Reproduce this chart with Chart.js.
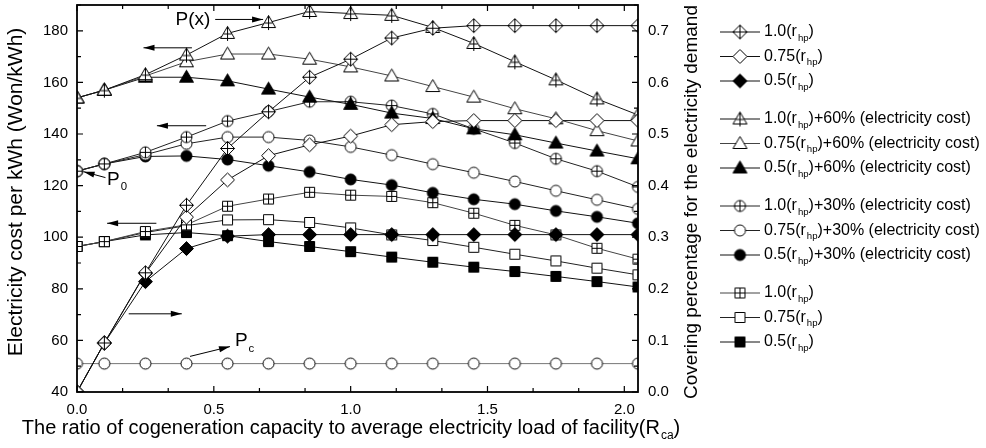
<!DOCTYPE html>
<html>
<head>
<meta charset="utf-8">
<script src="https://cdn.jsdelivr.net/npm/chart.js@4.4.1/dist/chart.umd.min.js"></script>
<style>
    html, body { margin: 0; padding: 0; background: #fff; }
    #wrap { width: 986px; height: 448px; }
</style>
</head>
<body>
<div id="wrap"><canvas id="chart"></canvas></div>
<script>
// x values: ratio of cogeneration capacity to average electricity load (R_ca)
const ratios = [0, 0.1, 0.25, 0.4, 0.55, 0.7, 0.85, 1.0, 1.15, 1.3, 1.45, 1.6, 1.75, 1.9, 2.05];

// covering percentage for the electricity demand (right axis)
const cover100 = [0, 0.095, 0.231, 0.362, 0.472, 0.543, 0.61, 0.645, 0.686, 0.705, 0.71, 0.71, 0.71, 0.71, 0.71];
const cover075 = [0, 0.095, 0.23, 0.339, 0.411, 0.458, 0.479, 0.496, 0.518, 0.524, 0.526, 0.526, 0.526, 0.526, 0.526];
const cover050 = [0, 0.095, 0.214, 0.278, 0.302, 0.305, 0.305, 0.305, 0.305, 0.305, 0.305, 0.305, 0.305, 0.305, 0.305];

// electricity cost per kWh, +60% electricity cost (left axis)
const cost60_100 = [154, 157, 163, 170.6, 179, 183.2, 187.5, 186.7, 186, 181.3, 175.1, 168, 161, 153.6, 147.4];
const cost60_075 = [154, 157, 162.5, 168, 171, 171, 169, 166, 162.5, 158.4, 154.3, 149.8, 145.9, 141.3, 137.3];
const cost60_050 = [154, 157, 162, 162, 160.6, 157.4, 154.3, 151.5, 148.1, 146, 142, 139.7, 136.5, 133.4, 130.4];

// +30% electricity cost
const cost30_100 = [125.6, 128.4, 132.9, 138.8, 145, 148.7, 152.5, 152.5, 151, 147.8, 142, 136.5, 130.4, 125.6, 119.5];
const cost30_075 = [125.6, 128.4, 132, 136.2, 138.8, 138.8, 137.5, 135, 131.8, 128.3, 125, 121.6, 118, 114.5, 111];
const cost30_050 = [125.6, 128.4, 131.3, 131.5, 130.1, 127.7, 125.3, 122.4, 120.2, 117.2, 114.7, 112.8, 110.2, 107.9, 105.4];

// base electricity cost
const cost_100 = [96.4, 98.3, 102.2, 104.8, 112, 114.8, 117.4, 116.3, 115.8, 113.4, 109.3, 104.6, 100.9, 95.7, 91.5];
const cost_075 = [96.4, 98.3, 101.8, 104.5, 106.7, 106.8, 105.7, 103.6, 100.9, 98.7, 96.1, 93.4, 90.8, 88, 85.4];
const cost_050 = [96.4, 98.3, 100.9, 101.8, 100.6, 98.3, 96.4, 94.4, 92.3, 90.3, 88.4, 86.7, 84.8, 82.8, 80.7];

// cogeneration cost P_c
const costPc = [51, 51, 51, 51, 51, 51, 51, 51, 51, 51, 51, 51, 51, 51, 51];

// axis ticks
const xTicks = [0, 0.5, 1.0, 1.5, 2.0];
const costTicks = [40, 60, 80, 100, 120, 140, 160, 180];
const coverTicks = [0, 0.1, 0.2, 0.3, 0.4, 0.5, 0.6, 0.7];

// annotation arrows [x tail, cost tail, x head, cost head]
const arrows = [
    [0.505, 184.4, 0.68, 184.4],
    [0.42, 173.4, 0.243, 173.4],
    [0.472, 143.2, 0.292, 143.2],
    [0.29, 105.4, 0.11, 105.4],
    [0.189, 70.3, 0.383, 70.3],
    [0.104, 123.1, 0.024, 125.4],
    [0.413, 53.8, 0.559, 57.6]
];
// annotation labels [text, x, cost]
const notes = [
    ['P(x)', 0.36, 184.4],
    ['P_0', 0.11, 122.3],
    ['P_c', 0.577, 59.7]
];

const FONT = "'Liberation Sans', Arial, sans-serif";

function makeMarker(shape, filled, plus) {
    const s = 17;
    const c = document.createElement('canvas');
    c.width = s; c.height = s;
    const g = c.getContext('2d');
    const m = s / 2;
    g.lineWidth = 1;
    g.strokeStyle = '#000';
    g.fillStyle = filled ? '#000' : '#fff';
    g.beginPath();
    if (shape === 'circle') {
        g.arc(m, m, 5.5, 0, Math.PI * 2);
    } else if (shape === 'square') {
        g.rect(m - 5, m - 5, 10, 10);
    } else if (shape === 'diamond') {
        g.moveTo(m, m - 7); g.lineTo(m + 7, m); g.lineTo(m, m + 7); g.lineTo(m - 7, m); g.closePath();
    } else if (shape === 'triangle') {
        g.moveTo(m, m - 7); g.lineTo(m + 7, m + 5); g.lineTo(m - 7, m + 5); g.closePath();
    }
    g.fill();
    g.stroke();
    if (plus) {
        g.beginPath();
        if (shape === 'triangle') {
            g.moveTo(m, m - 7); g.lineTo(m, m + 7.5);
            g.moveTo(m - 4, m + 0.5); g.lineTo(m + 4, m + 0.5);
        } else {
            const r = shape === 'diamond' ? 7 : 5.5;
            g.moveTo(m - r, m); g.lineTo(m + r, m);
            g.moveTo(m, m - r); g.lineTo(m, m + r);
        }
        g.stroke();
    }
    return c;
}

const mk = {
    diamondPlus: makeMarker('diamond', false, true),
    diamond: makeMarker('diamond', false, false),
    diamondFill: makeMarker('diamond', true, false),
    triPlus: makeMarker('triangle', false, true),
    tri: makeMarker('triangle', false, false),
    triFill: makeMarker('triangle', true, false),
    circPlus: makeMarker('circle', false, true),
    circ: makeMarker('circle', false, false),
    circFill: makeMarker('circle', true, false),
    sqPlus: makeMarker('square', false, true),
    sq: makeMarker('square', false, false),
    sqFill: makeMarker('square', true, false)
};

function series(label, values, axis, marker, color, group) {
    return {
        label: label,
        data: ratios.map((x, i) => ({ x: x, y: values[i] })),
        yAxisID: axis,
        pointStyle: marker,
        pointRadius: 6,
        borderColor: color,
        backgroundColor: color,
        borderWidth: 1,
        tension: 0,
        clip: 0,
        group: group
    };
}

const datasets = [
    series('1.0(r_hp)', cover100, 'cover', mk.diamondPlus, '#111', 0),
    series('0.75(r_hp)', cover075, 'cover', mk.diamond, '#111', 0),
    series('0.5(r_hp)', cover050, 'cover', mk.diamondFill, '#111', 0),
    series('1.0(r_hp)+60% (electricity cost)', cost60_100, 'cost', mk.triPlus, '#111', 1),
    series('0.75(r_hp)+60% (electricity cost)', cost60_075, 'cost', mk.tri, '#444', 1),
    series('0.5(r_hp)+60% (electricity cost)', cost60_050, 'cost', mk.triFill, '#111', 1),
    series('1.0(r_hp)+30% (electricity cost)', cost30_100, 'cost', mk.circPlus, '#222', 2),
    series('0.75(r_hp)+30% (electricity cost)', cost30_075, 'cost', mk.circ, '#222', 2),
    series('0.5(r_hp)+30% (electricity cost)', cost30_050, 'cost', mk.circFill, '#111', 2),
    series('1.0(r_hp)', cost_100, 'cost', mk.sqPlus, '#444', 3),
    series('0.75(r_hp)', cost_075, 'cost', mk.sq, '#222', 3),
    series('0.5(r_hp)', cost_050, 'cost', mk.sqFill, '#111', 3),
    series('P_c', costPc, 'cost', mk.circ, '#777', -1)
];

// text with _sub parts (r_hp, R_ca, P_0)
function richText(ctx, text, x, y, size) {
    const parts = text.split(/_(hp|ca|0|c)/);
    let cx = x;
    parts.forEach((p, i) => {
        if (!p) return;
        if (i % 2 === 1) {
            ctx.font = (size * 0.6) + 'px ' + FONT;
            ctx.fillText(p, cx + 1, y + size * 0.38);
            cx += ctx.measureText(p).width + 1;
        } else {
            ctx.font = size + 'px ' + FONT;
            ctx.fillText(p, cx, y);
            cx += ctx.measureText(p).width;
        }
    });
    return cx - x;
}

function richWidth(ctx, text, size) {
    const parts = text.split(/_(hp|ca|0|c)/);
    let w = 0;
    parts.forEach((p, i) => {
        if (!p) return;
        ctx.font = (i % 2 === 1 ? size * 0.6 : size) + 'px ' + FONT;
        w += ctx.measureText(p).width + (i % 2 === 1 ? 1 : 0);
    });
    return w;
}

const decor = {
    id: 'decor',
    afterDraw(chart) {
        const ctx = chart.ctx;
        const a = chart.chartArea;
        const sx = chart.scales.x, sy = chart.scales.cost;
        ctx.save();
        ctx.strokeStyle = '#000';
        ctx.fillStyle = '#000';

        // inward ticks on all four sides
        ctx.lineWidth = 1.2;
        ctx.beginPath();
        for (let k = 0; k <= 12; k++) {
            const v = k / 6;
            const px = sx.getPixelForValue(v);
            const len = k % 3 === 0 ? 6 : 4;
            ctx.moveTo(px, a.bottom); ctx.lineTo(px, a.bottom - len);
            ctx.moveTo(px, a.top); ctx.lineTo(px, a.top + len);
        }
        for (let v = 40; v <= 190; v += 10) {
            const py = sy.getPixelForValue(v);
            const len = v % 20 === 0 ? 6 : 4;
            ctx.moveTo(a.left, py); ctx.lineTo(a.left + len, py);
            ctx.moveTo(a.right, py); ctx.lineTo(a.right - len, py);
        }
        ctx.stroke();

        // frame
        ctx.lineWidth = 1.8;
        ctx.strokeRect(a.left, a.top, a.right - a.left, a.bottom - a.top);

        // annotation arrows
        ctx.lineWidth = 1;
        arrows.forEach(r => {
            const x1 = sx.getPixelForValue(r[0]), y1 = sy.getPixelForValue(r[1]);
            const x2 = sx.getPixelForValue(r[2]), y2 = sy.getPixelForValue(r[3]);
            const ang = Math.atan2(y2 - y1, x2 - x1);
            ctx.beginPath();
            ctx.moveTo(x1, y1); ctx.lineTo(x2, y2);
            ctx.stroke();
            ctx.beginPath();
            ctx.moveTo(x2, y2);
            ctx.lineTo(x2 - 11 * Math.cos(ang) + 3 * Math.sin(ang), y2 - 11 * Math.sin(ang) - 3 * Math.cos(ang));
            ctx.lineTo(x2 - 11 * Math.cos(ang) - 3 * Math.sin(ang), y2 - 11 * Math.sin(ang) + 3 * Math.cos(ang));
            ctx.closePath();
            ctx.fill();
        });
        ctx.textBaseline = 'middle';
        ctx.textAlign = 'left';
        notes.forEach(n => {
            richText(ctx, n[0], sx.getPixelForValue(n[1]), sy.getPixelForValue(n[2]), 19);
        });

        // axis titles
        ctx.textAlign = 'left';
        ctx.textBaseline = 'middle';
        const xt = 'The ratio of cogeneration capacity to average electricity load of facility(R_ca)';
        const xw = richWidth(ctx, xt, 20);
        richText(ctx, xt, 351 - xw / 2, 428, 20);

        const lt = 'Electricity cost per kWh (Won/kWh)';
        ctx.save();
        ctx.translate(16, 192);
        ctx.rotate(-Math.PI / 2);
        ctx.font = '21px ' + FONT;
        ctx.textAlign = 'center';
        ctx.fillText(lt, 0, 0);
        ctx.restore();

        const rt = 'Covering percentage for the electricity demand';
        ctx.save();
        ctx.translate(692, 202);
        ctx.rotate(-Math.PI / 2);
        ctx.font = '19px ' + FONT;
        ctx.textAlign = 'center';
        ctx.fillText(rt, 0, 0);
        ctx.restore();

        // grouped legend
        const rowIdx = [0, 0, 0, 0];
        chart.data.datasets.forEach(ds => {
            if (ds.group < 0) return;
            const y = 32 + ds.group * 87 + rowIdx[ds.group] * 24.5;
            rowIdx[ds.group]++;
            ctx.strokeStyle = ds.borderColor;
            ctx.lineWidth = 1;
            ctx.beginPath();
            ctx.moveTo(720, y); ctx.lineTo(760, y);
            ctx.stroke();
            const img = ds.pointStyle;
            ctx.drawImage(img, 740 - img.width / 2, y - img.height / 2);
            ctx.fillStyle = '#000';
            ctx.textAlign = 'left';
            ctx.textBaseline = 'middle';
            richText(ctx, ds.label, 764, y, 16);
        });
        ctx.restore();
    }
};

new Chart(document.getElementById('chart'), {
    type: 'line',
    data: { datasets: datasets },
    options: {
        responsive: true,
        maintainAspectRatio: false,
        animation: false,
        devicePixelRatio: 1,
        events: [],
        layout: { padding: { top: 5, right: 278, bottom: 0, left: 0 }, autoPadding: false },
        plugins: { legend: { display: false }, tooltip: { enabled: false } },
        scales: {
            x: {
                type: 'linear',
                min: 0,
                max: 2.05,
                grid: { display: false, drawTicks: false },
                border: { display: false },
                afterBuildTicks: s => { s.ticks = xTicks.map(v => ({ value: v })); },
                ticks: {
                    padding: 9,
                    color: '#000',
                    font: { family: FONT, size: 15 },
                    callback: v => v.toFixed(1)
                },
                afterFit: s => { s.height = 56; s.paddingLeft = 0; s.paddingRight = 0; }
            },
            cost: {
                position: 'left',
                min: 40,
                max: 190,
                grid: { display: false, drawTicks: false },
                border: { display: false },
                afterBuildTicks: s => { s.ticks = costTicks.map(v => ({ value: v })); },
                ticks: {
                    padding: 9,
                    color: '#000',
                    font: { family: FONT, size: 15 },
                    callback: v => String(v)
                },
                afterFit: s => { s.width = 77; s.paddingTop = 0; s.paddingBottom = 0; }
            },
            cover: {
                position: 'right',
                min: 0,
                max: 0.75,
                grid: { display: false, drawTicks: false },
                border: { display: false },
                afterBuildTicks: s => { s.ticks = coverTicks.map(v => ({ value: v })); },
                ticks: {
                    padding: 10,
                    color: '#000',
                    font: { family: FONT, size: 15 },
                    callback: v => v.toFixed(1)
                },
                afterFit: s => { s.width = 70; s.paddingTop = 0; s.paddingBottom = 0; }
            }
        }
    },
    plugins: [decor]
});
</script>
</body>
</html>
